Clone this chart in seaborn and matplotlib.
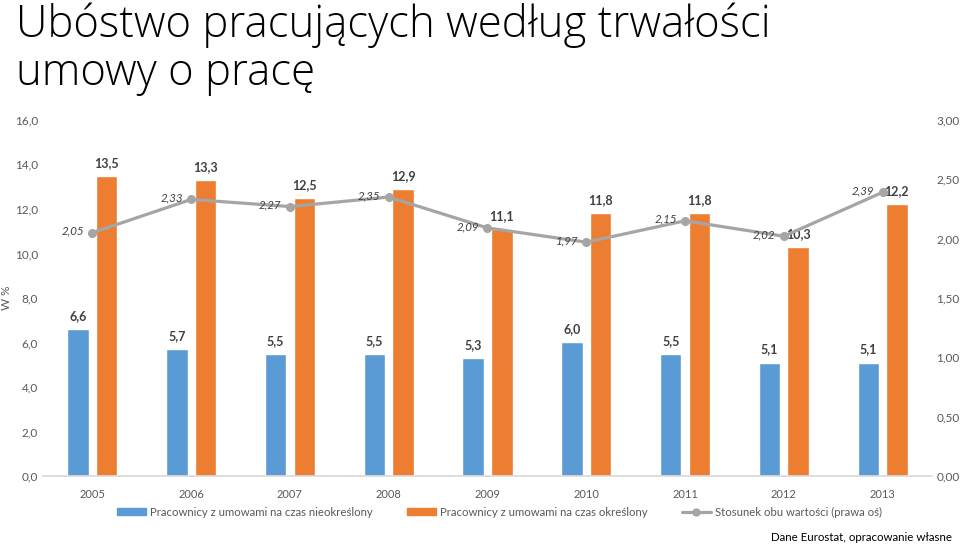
import pandas as pd
import seaborn as sns
import matplotlib.pyplot as plt
from matplotlib.ticker import FuncFormatter
from matplotlib.lines import Line2D
from matplotlib.patches import Patch

# Data
years = ["2005", "2006", "2007", "2008", "2009", "2010", "2011", "2012", "2013"]
indefinite = [6.6, 5.7, 5.5, 5.5, 5.3, 6.0, 5.5, 5.1, 5.1]
fixed_term = [13.5, 13.3, 12.5, 12.9, 11.1, 11.8, 11.8, 10.3, 12.2]
ratio = [2.05, 2.33, 2.27, 2.35, 2.09, 1.97, 2.15, 2.02, 2.39]

lab_ind = "Pracownicy z umowami na czas nieokreślony"
lab_fix = "Pracownicy z umowami na czas określony"
lab_ratio = "Stosunek obu wartości (prawa oś)"

blue = "#5B9BD5"
orange = "#ED7D31"
grey = "#A5A5A5"
tick_col = "#595959"

df = pd.DataFrame({
    "rok": years * 2,
    "wartosc": indefinite + fixed_term,
    "grupa": [lab_ind] * len(years) + [lab_fix] * len(years),
})

sns.set_theme(style="white")
plt.rcParams['font.family'] = ['Lato', 'DejaVu Sans']

fig = plt.figure(figsize=(9.6, 5.5), dpi=100)
ax = fig.add_axes([0.0448, 0.1345, 0.926, 0.6475])

sns.barplot(data=df, x="rok", y="wartosc", hue="grupa", palette=[blue, orange],
            width=0.58, gap=0.25, ax=ax, legend=False, saturation=1)

for cont in ax.containers:
    ax.bar_label(cont, labels=[f"{v:.1f}".replace(".", ",") for v in cont.datavalues],
                 padding=5, fontsize=9, fontweight="bold", color="#404040")

ax.set_ylim(0, 16)
ax.set_yticks(range(0, 17, 2))
ax.yaxis.set_major_formatter(FuncFormatter(lambda v, p: f"{v:.1f}".replace(".", ",")))
ax.set_xlim(-0.5, len(years) - 0.5)
ax.set_xlabel("")
ax.set_ylabel("W %", fontsize=8.5, color=tick_col, labelpad=2)
ax.tick_params(axis="y", length=0, labelsize=8.5, labelcolor=tick_col)
ax.tick_params(axis="x", length=0, labelsize=8, labelcolor=tick_col, pad=9)
for s in ["top", "right", "left"]:
    ax.spines[s].set_visible(False)
ax.spines["bottom"].set_color("#D9D9D9")

# Ratio on the right axis
ax2 = ax.twinx()
xpos = ax.get_xticks()
ax2.plot(xpos, ratio, color=grey, linewidth=2.3, marker="o", markersize=5.5)
for x, r in zip(xpos, ratio):
    ax2.annotate(f"{r:.2f}".replace(".", ","), (x, r), xytext=(-6, 1),
                 textcoords="offset points", ha="right", va="center",
                 fontsize=8.3, fontstyle="italic", color="#404040")
ax2.set_ylim(0, 3)
ax2.set_yticks([0, 0.5, 1, 1.5, 2, 2.5, 3])
ax2.yaxis.set_major_formatter(FuncFormatter(lambda v, p: f"{v:.2f}".replace(".", ",")))
ax2.tick_params(axis="y", length=0, labelsize=8.5, labelcolor=tick_col, pad=3)
for s in ["top", "right", "left", "bottom"]:
    ax2.spines[s].set_visible(False)

# Legend
handles = [
    Patch(color=blue, label=lab_ind),
    Patch(color=orange, label=lab_fix),
    Line2D([], [], color=grey, linewidth=2.3, marker="o", markersize=5, label=lab_ratio),
]
fig.legend(handles=handles, loc="center", bbox_to_anchor=(0.52, 0.069), ncol=3,
           frameon=False, fontsize=8.2, handlelength=2.6, handleheight=0.55,
           columnspacing=3.0, handletextpad=0.3, labelcolor=tick_col)

fig.text(0.017, 0.995, "Ubóstwo pracujących według trwałości\numowy o pracę",
         ha="left", va="top", fontsize=31.5, fontweight="light", color="black",
         family=["Open Sans", "DejaVu Sans"], linespacing=1.1)
fig.text(0.992, 0.012, "Dane Eurostat, opracowanie własne", ha="right", va="bottom",
         fontsize=8.3, color="black")

fig.savefig("out.png", dpi=100)
plt.close()
